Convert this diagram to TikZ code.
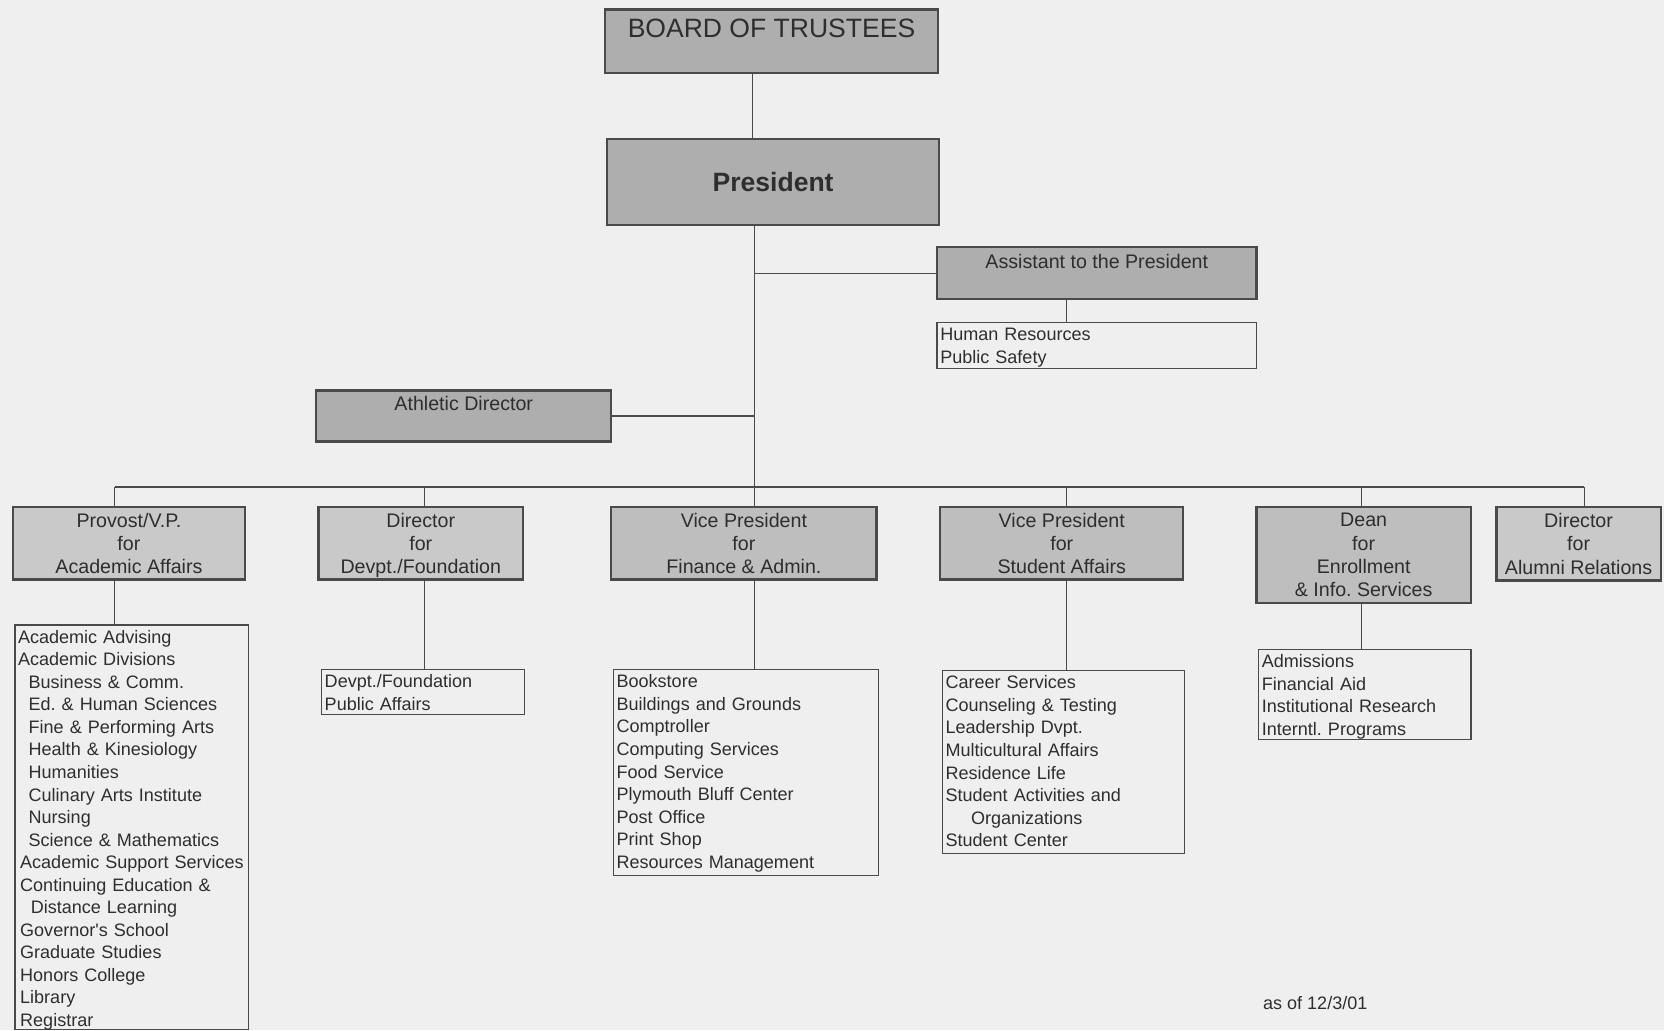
\documentclass[tikz,border=0pt]{standalone}
\usepackage{fontspec}
\setmainfont{Liberation Sans}
\frenchspacing
\definecolor{bg}{HTML}{EFEFEF}
\definecolor{darkfill}{HTML}{AEAEAE}
\definecolor{midfill}{HTML}{BEBEBE}
\definecolor{lightfill}{HTML}{C9C9C9}
\definecolor{edge}{HTML}{4A4A4A}
\definecolor{ink}{HTML}{2E2E2E}
\newcommand\listfnt{\fontsize{17}{21.24}\selectfont}
\newcommand\headfnt{\fontsize{18.5}{22}\selectfont}
\begin{document}
\begin{tikzpicture}[x=1pt,y=-1pt,
  gbox/.style={draw=edge, line width=2.2pt, inner sep=0pt, align=center, text=ink, font=\headfnt, text depth=0pt},
  lbox/.style={draw=edge, line width=1.3pt, inner xsep=3pt, inner ysep=0pt, align=left, text=ink, font=\listfnt},
  conn/.style={draw=edge, line width=1.2pt}]
\useasboundingbox[fill=bg] (0,0) rectangle (1568,971);

% top
\node[gbox, fill=darkfill, minimum width=314pt, minimum height=60pt, font=\fontsize{25}{30}\selectfont, text depth=24pt] (board) at (727,39) {BOARD OF TRUSTEES};
\node[gbox, fill=darkfill, minimum width=313pt, minimum height=81pt, font=\fontsize{25}{30}\selectfont\bfseries] (pres) at (728.5,171.5) {President};
\node[gbox, fill=darkfill, minimum width=301pt, minimum height=49pt, text depth=23pt] (asst) at (1033.5,257.5) {Assistant to the President};
\node[lbox, text width=295pt, minimum height=43pt, text depth=21pt] (hr) at (1033.5,325.5) {Human Resources\\Public Safety};
\node[gbox, fill=darkfill, minimum width=278pt, minimum height=48pt, text depth=24pt] (ath) at (437,392) {Athletic Director};

% second row
\node[gbox, fill=lightfill, minimum width=219pt, minimum height=68pt] (prov) at (121.5,512) {Provost/V.P.\\for\\Academic Affairs};
\node[gbox, fill=lightfill, minimum width=193pt, minimum height=68pt] (dev) at (396.5,512) {Director\\for\\Devpt./Foundation};
\node[gbox, fill=midfill, minimum width=250pt, minimum height=68pt] (fin) at (701,512) {Vice President\\for\\Finance \& Admin.};
\node[gbox, fill=midfill, minimum width=229pt, minimum height=68pt] (stu) at (1000.5,512) {Vice President\\for\\Student Affairs};
\node[gbox, fill=midfill, minimum width=202pt, minimum height=90pt] (dean) at (1285,523) {Dean\\for\\Enrollment\\\& Info. Services};
\node[gbox, fill=lightfill, minimum width=155pt, minimum height=69pt] (alum) at (1487.5,512.5) {Director\\for\\Alumni Relations};

% lists
\node[lbox, text width=214pt, minimum height=381pt, text depth=359pt] (provlist) at (124,779.5) {Academic Advising\\Academic Divisions\\
\hspace*{10pt}Business \& Comm.\\\hspace*{10pt}Ed. \& Human Sciences\\\hspace*{10pt}Fine \& Performing Arts\\
\hspace*{10pt}Health \& Kinesiology\\\hspace*{10pt}Humanities\\\hspace*{10pt}Culinary Arts Institute\\
\hspace*{10pt}Nursing\\\hspace*{10pt}Science \& Mathematics\\\hspace*{2pt}Academic Support Services\\
\hspace*{2pt}Continuing Education \&\\\hspace*{12pt}Distance Learning\\\hspace*{2pt}Governor\textquotesingle s School\\
\hspace*{2pt}Graduate Studies\\\hspace*{2pt}Honors College\\\hspace*{2pt}Library\\\hspace*{2pt}Registrar};
\node[lbox, text width=185pt, minimum height=42pt, text depth=20pt] (devlist) at (398.5,652) {Devpt./Foundation\\Public Affairs};
\node[lbox, text width=244pt, minimum height=194pt, text depth=172pt] (finlist) at (703,728) {Bookstore\\Buildings and Grounds\\Comptroller\\Computing Services\\Food Service\\Plymouth Bluff Center\\Post Office\\Print Shop\\Resources Management};
\node[lbox, text width=222pt, minimum height=172pt, text depth=150pt] (stulist) at (1002,718) {Career Services\\Counseling \& Testing\\Leadership Dvpt.\\Multicultural Affairs\\Residence Life\\Student Activities and\\\hspace*{24pt}Organizations\\Student Center};
\node[lbox, text width=194pt, minimum height=85pt, text depth=63pt] (deanlist) at (1286,654.5) {Admissions\\Financial Aid\\Institutional Research\\Interntl. Programs};

\node[font=\listfnt, text=ink, anchor=west, inner sep=0pt] (date) at (1190,945) {as of 12/3/01};

% connectors
\coordinate (trunk) at (711,459);
\coordinate (bL) at (108,459);
\coordinate (bDev) at (400,459);
\coordinate (bStu) at (1005,459);
\coordinate (bDean) at (1283,459);
\coordinate (bR) at (1493,459);

\draw[conn] (709,0 |- board.south) -- (709,0 |- pres.north);
\draw[conn] (trunk |- pres.south) -- (trunk);
\draw[conn] (asst.west) -- (asst.west -| trunk);
\draw[conn] (ath.east) -- (ath.east -| trunk);
\draw[conn] (1005,0 |- asst.south) -- (1005,0 |- hr.north);
\draw[conn] (bL) -- (bR);
\draw[conn] (bL) -- (bL |- prov.north);
\draw[conn] (bDev) -- (bDev |- dev.north);
\draw[conn] (trunk) -- (trunk |- fin.north);
\draw[conn] (bStu) -- (bStu |- stu.north);
\draw[conn] (bDean) -- (bDean |- dean.north);
\draw[conn] (bR) -- (bR |- alum.north);
\draw[conn] (bL |- prov.south) -- (bL |- provlist.north);
\draw[conn] (bDev |- dev.south) -- (bDev |- devlist.north);
\draw[conn] (trunk |- fin.south) -- (trunk |- finlist.north);
\draw[conn] (bStu |- stu.south) -- (bStu |- stulist.north);
\draw[conn] (bDean |- dean.south) -- (bDean |- deanlist.north);
\end{tikzpicture}
\end{document}
